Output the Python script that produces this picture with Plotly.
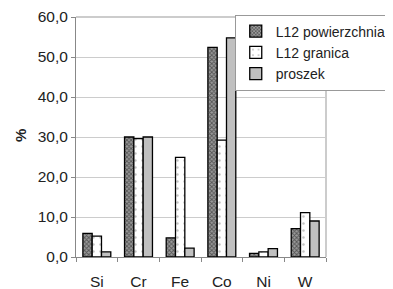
import plotly.graph_objects as go

categories = ["Si", "Cr", "Fe", "Co", "Ni", "W"]
powierzchnia = [5.9, 30.0, 4.8, 52.4, 0.9, 7.1]
granica = [5.2, 29.6, 24.9, 29.2, 1.3, 11.1]
proszek = [1.3, 30.0, 2.2, 54.8, 2.1, 9.0]
series_names = ["L12 powierzchnia", "L12 granica", "proszek"]
y_ticks = [0, 10, 20, 30, 40, 50, 60]

fig = go.Figure()
fig.add_trace(go.Bar(
    x=categories, y=powierzchnia, name=series_names[0],
    marker=dict(color="#707070", line=dict(color="black", width=1.3),
                pattern=dict(shape="x", fgcolor="#111111", bgcolor="#9a9a9a", size=3, solidity=0.5)),
))
fig.add_trace(go.Bar(
    x=categories, y=granica, name=series_names[1],
    marker=dict(color="white", line=dict(color="black", width=1.3),
                pattern=dict(shape=".", fgcolor="#888888", bgcolor="white", size=7, solidity=0.1)),
))
fig.add_trace(go.Bar(
    x=categories, y=proszek, name=series_names[2],
    marker=dict(color="#c0c0c0", line=dict(color="black", width=1.3)),
))

fig.update_layout(
    width=385, height=281,
    margin=dict(l=68, r=67, t=9, b=32, autoexpand=False),
    paper_bgcolor="white", plot_bgcolor="white",
    barmode="group", bargap=0.33, bargroupgap=0.0,
    font=dict(family="Liberation Sans, Arial, sans-serif", size=15, color="#222222"),
    separators=",.",
    showlegend=True,
    legend=dict(x=0.635, y=1.01, xanchor="left", yanchor="top",
                bgcolor="white", bordercolor="#999999", borderwidth=1,
                font=dict(size=14), tracegroupgap=0, itemwidth=30),
    xaxis=dict(showline=True, linecolor="#888888", linewidth=1, mirror=False,
               ticks="outside", tickson="boundaries", ticklen=4, tickcolor="#888888",
               ticklabelstandoff=10, showgrid=False, automargin=False,
               tickfont=dict(size=15.5), ticklabeloverflow="allow"),
    yaxis=dict(range=[0, 60], tickvals=y_ticks, tickformat=".1f",
               showline=True, linecolor="#888888", linewidth=1, mirror=False,
               ticks="outside", ticklen=4, tickcolor="#888888",
               showgrid=True, gridcolor="#cccccc", gridwidth=1,
               tickfont=dict(size=15.5), automargin=False, zeroline=False,
               ticklabeloverflow="allow"),
    annotations=[dict(text="<b>%</b>", xref="paper", yref="paper", x=-0.224, y=0.504,
                      textangle=-90, showarrow=False, font=dict(size=15),
                      xanchor="center", yanchor="middle")],
)
# right and top border of plot area
fig.add_shape(type="line", xref="paper", yref="paper", x0=1, x1=1, y0=0, y1=1,
              line=dict(color="#999999", width=1), layer="below")
fig.add_shape(type="line", xref="paper", yref="paper", x0=0, x1=1, y0=1, y1=1,
              line=dict(color="#999999", width=1), layer="below")

fig.write_html("out.html")
